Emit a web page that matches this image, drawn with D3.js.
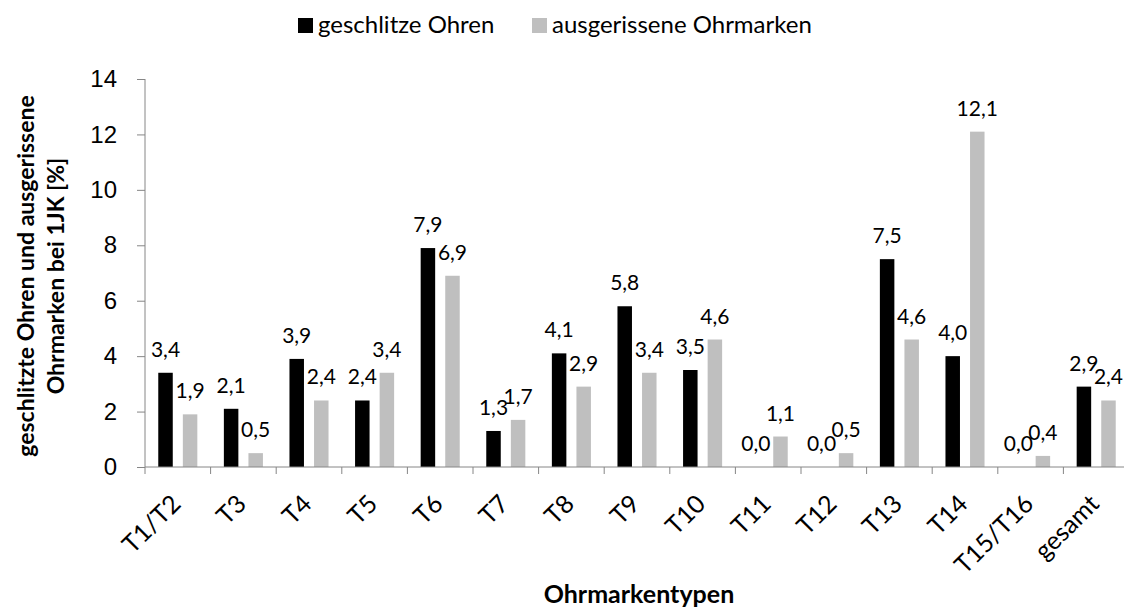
<!DOCTYPE html>
<html>
<head>
<meta charset="utf-8">
<script src="https://cdn.jsdelivr.net/npm/d3@7"></script>
<style>
  body { margin: 0; background: #fff; }
  svg { display: block; font-family: Lato, "Open Sans", sans-serif; }
</style>
</head>
<body>
<div id="chart"></div>
<script>
"use strict";

// Ohrmarkentypen and the two percentages per type
const categories = ["T1/T2", "T3", "T4", "T5", "T6", "T7", "T8", "T9", "T10", "T11", "T12", "T13", "T14", "T15/T16", "gesamt"];
const series_names = ["geschlitze Ohren", "ausgerissene Ohrmarken"];
const geschlitzt = [3.4, 2.1, 3.9, 2.4, 7.9, 1.3, 4.1, 5.8, 3.5, 0.0, 0.0, 7.5, 4.0, 0.0, 2.9];
const ausgerissen = [1.9, 0.5, 2.4, 3.4, 6.9, 1.7, 2.9, 3.4, 4.6, 1.1, 0.5, 4.6, 12.1, 0.4, 2.4];
const y_ticks = [0, 2, 4, 6, 8, 10, 12, 14];

const colors = ["#000000", "#bfbfbf"];
const axis_color = "#868686";

const width = 1124;
const height = 610;

const data = categories.map(function(c, i) {
  return { cat: c, values: [geschlitzt[i], ausgerissen[i]] };
});

const svg = d3.select("#chart")
    .append("svg")
    .attr("width", width)
    .attr("height", height);

const x = d3.scaleBand()
    .domain(categories)
    .range([145, 1129]);

const x1 = d3.scaleBand()
    .domain([0, 1])
    .range([0, x.bandwidth()])
    .paddingInner(0.41)
    .paddingOuter(0.54);

const y = d3.scaleLinear()
    .domain([0, 14])
    .range([467, 79]);

/* y axis */
const yAxis = svg.append("g")
    .attr("transform", "translate(145,0)")
    .call(d3.axisLeft(y).tickValues(y_ticks).tickSize(8).tickPadding(20));
yAxis.selectAll("line").attr("stroke", axis_color);
yAxis.select(".domain").attr("stroke", axis_color).attr("d", "M0," + y(14) + "V" + y(0));
yAxis.selectAll("text")
    .style("font-size", "24px")
    .style("fill", "#000");

/* bars */
const groups = svg.selectAll(".group")
    .data(data)
    .enter().append("g")
    .attr("class", "group")
    .attr("transform", d => `translate(${x(d.cat)},0)`);

groups.selectAll("rect")
    .data(d => d.values)
    .enter().append("rect")
    .attr("x", (d, i) => x1(i))
    .attr("y", d => y(d))
    .attr("width", x1.bandwidth())
    .attr("height", d => y(0) - y(d))
    .style("fill", (d, i) => colors[i]);

groups.selectAll(".lbl")
    .data(d => d.values)
    .enter().append("text")
    .attr("class", "lbl")
    .attr("x", (d, i) => x1(i) + x1.bandwidth() / 2)
    .attr("y", d => y(d) - 16)
    .attr("text-anchor", "middle")
    .style("font-size", "21px")
    .style("fill", "#000")
    .text(d => d3.format(".1f")(d).replace(".", ","));

/* x axis */
const xAxis = svg.append("g")
    .attr("transform", `translate(0,${y(0)})`);
xAxis.append("line")
    .attr("x1", 145).attr("x2", width)
    .attr("stroke", axis_color);
xAxis.selectAll(".tick")
    .data(categories.concat([null]))
    .enter().append("line")
    .attr("x1", (d, i) => i < categories.length ? x(d) : x(categories[i - 1]) + x.bandwidth())
    .attr("x2", (d, i) => i < categories.length ? x(d) : x(categories[i - 1]) + x.bandwidth())
    .attr("y1", 0).attr("y2", 7)
    .attr("stroke", axis_color);
xAxis.selectAll(".xlbl")
    .data(categories)
    .enter().append("text")
    .attr("class", "xlbl")
    .attr("text-anchor", "end")
    .attr("transform", d => `translate(${x(d) + x.bandwidth() / 2 - 8},${26}) rotate(-45)`)
    .attr("dy", "0.7em")
    .style("font-size", "25px")
    .style("fill", "#000")
    .text(d => d);

/* axis titles */
svg.append("text")
    .attr("x", 639)
    .attr("y", 603)
    .attr("text-anchor", "middle")
    .style("font-size", "25px")
    .style("font-weight", "bold")
    .text("Ohrmarkentypen");

const ytitle = svg.append("text")
    .attr("transform", "translate(34,276) rotate(-90)")
    .attr("text-anchor", "middle")
    .style("font-size", "23px")
    .style("font-weight", "bold");
ytitle.append("tspan").attr("x", 0).attr("y", 0).text("geschlitzte Ohren und ausgerissene");
ytitle.append("tspan").attr("x", 0).attr("y", 30).text("Ohrmarken bei 1JK [%]");

/* legend */
const legend_x = [298, 532];
const legend = svg.selectAll(".legend")
    .data(series_names)
    .enter().append("g")
    .attr("class", "legend")
    .attr("transform", (d, i) => `translate(${legend_x[i]},18)`);
legend.append("rect")
    .attr("width", 15).attr("height", 15)
    .attr("y", 0)
    .style("fill", (d, i) => colors[i]);
legend.append("text")
    .attr("x", 20)
    .attr("y", 15)
    .style("font-size", "24px")
    .style("fill", "#000")
    .text(d => d);
</script>
</body>
</html>
